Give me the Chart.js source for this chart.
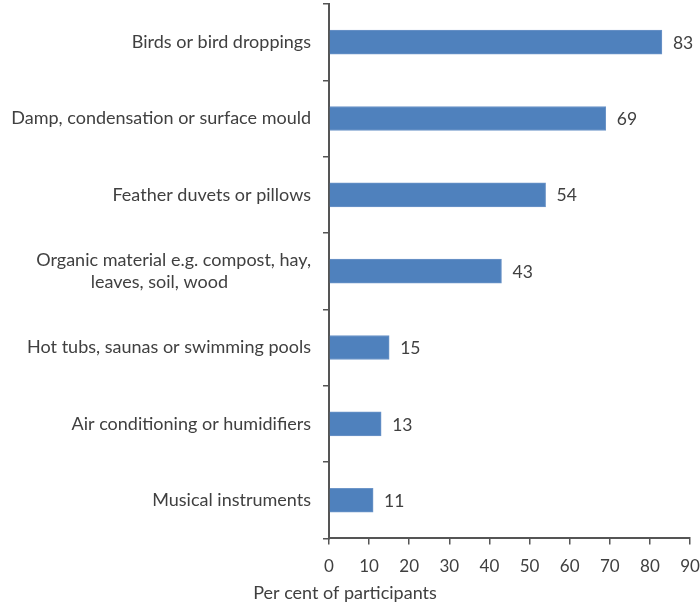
<!DOCTYPE html>
<html>
<head>
<meta charset="utf-8">
<script src="https://cdn.jsdelivr.net/npm/chart.js@4.4.0/dist/chart.umd.min.js"></script>
<style>
  html, body { margin: 0; padding: 0; background: #fff; }
  #wrap { width: 700px; height: 607px; }
</style>
</head>
<body>
<div id="wrap"><canvas id="barChart" width="700" height="607"></canvas></div>
<script>
// categories and values
var sources = [
    'Birds or bird droppings',
    'Damp, condensation or surface mould',
    'Feather duvets or pillows',
    ['Organic material e.g. compost, hay,', 'leaves, soil, wood                  '],
    'Hot tubs, saunas or swimming pools',
    'Air conditioning or humidifiers',
    'Musical instruments'
];
var percentages = [83, 69, 54, 43, 15, 13, 11];
var xTicks = [0, 10, 20, 30, 40, 50, 60, 70, 80, 90];

var textColor = '#404040';
var fontFamily = 'Lato, "Open Sans", sans-serif';

// draws the number just past the end of each bar
var valueLabels = {
    id: 'valueLabels',
    afterDatasetsDraw: function (chart) {
        var ctx = chart.ctx;
        var meta = chart.getDatasetMeta(0);
        ctx.save();
        ctx.fillStyle = textColor;
        ctx.font = '17.5px ' + fontFamily;
        ctx.textAlign = 'left';
        ctx.textBaseline = 'middle';
        meta.data.forEach(function (bar, i) {
            ctx.fillText(String(percentages[i]), bar.x + 11, bar.y + 1);
        });
        ctx.restore();
    }
};

var ctx = document.getElementById('barChart').getContext('2d');
var barChart = new Chart(ctx, {
    type: 'bar',
    data: {
        labels: sources,
        datasets: [{
            data: percentages,
            backgroundColor: '#4F81BD',
            borderColor: '#6D95C8',
            borderWidth: 1,
            barThickness: 24
        }]
    },
    options: {
        indexAxis: 'y',
        responsive: false,
        animation: false,
        layout: { padding: { top: 4, right: 10, bottom: 3, left: 0 } },
        plugins: {
            legend: { display: false },
            tooltip: { enabled: false },
            title: {
                display: true,
                position: 'bottom',
                text: 'Per cent of participants',
                color: textColor,
                font: { family: fontFamily, size: 18, weight: 'normal', lineHeight: 1.2 },
                padding: { top: 0, bottom: 0 }
            }
        },
        scales: {
            x: {
                min: 0,
                max: 90,
                afterBuildTicks: function (scale) {
                    scale.ticks = xTicks.map(function (v) { return { value: v }; });
                },
                afterFit: function (scale) {
                    scale.height = 44;
                    scale.paddingLeft = 0;
                    scale.paddingRight = 0;
                },
                border: { display: true, color: '#555', width: 2 },
                grid: { drawOnChartArea: false, drawTicks: true, tickLength: 6, color: '#555', lineWidth: 1.5 },
                ticks: { color: textColor, font: { family: fontFamily, size: 17 }, padding: 12, maxRotation: 0 }
            },
            y: {
                afterFit: function (scale) {
                    scale.width = 329;
                    scale.paddingTop = 0;
                    scale.paddingBottom = 0;
                },
                border: { display: true, color: '#555', width: 2 },
                grid: { offset: true, drawOnChartArea: false, drawTicks: true, tickLength: 6, color: '#555', lineWidth: 1.5 },
                ticks: { color: textColor, font: { family: fontFamily, size: 18, lineHeight: 1.25 }, padding: 12 }
            }
        }
    },
    plugins: [valueLabels]
});
</script>
</body>
</html>
